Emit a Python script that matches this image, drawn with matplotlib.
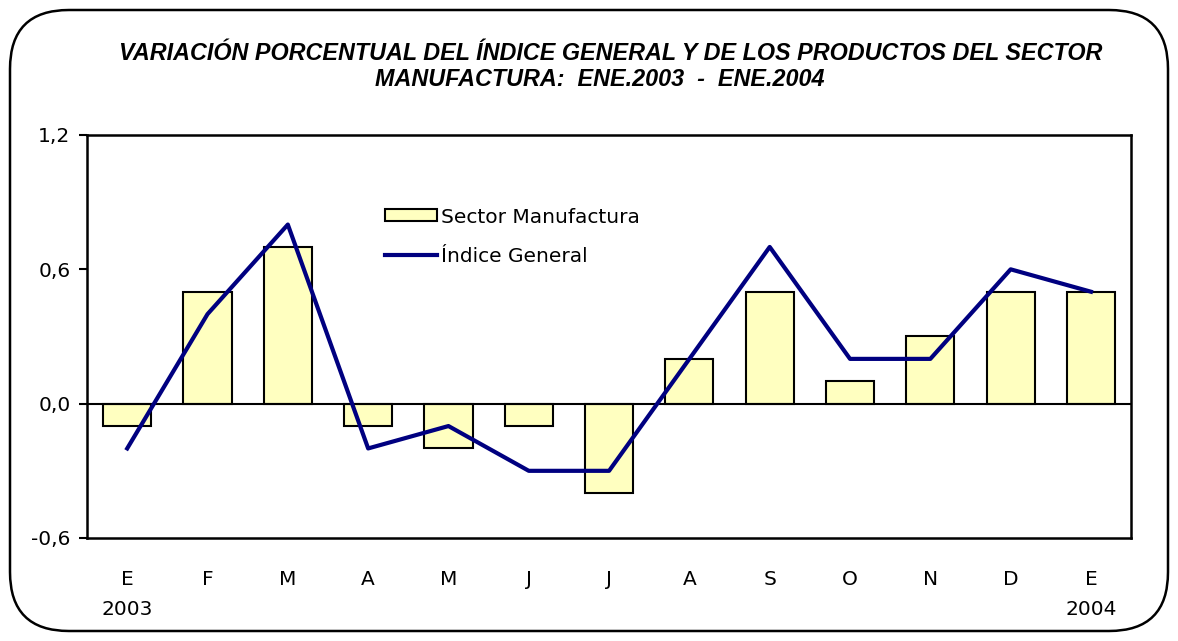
import matplotlib.pyplot as plt
from matplotlib.patches import FancyBboxPatch
import numpy as np

months = ['E', 'F', 'M', 'A', 'M', 'J', 'J', 'A', 'S', 'O', 'N', 'D', 'E']
manufactura = [-0.1, 0.5, 0.7, -0.1, -0.2, -0.1, -0.4, 0.2, 0.5, 0.1, 0.3, 0.5, 0.5]
indice = [-0.2, 0.4, 0.8, -0.2, -0.1, -0.3, -0.3, 0.2, 0.7, 0.2, 0.2, 0.6, 0.5]
yticks = [-0.6, 0.0, 0.6, 1.2]
ytick_labels = ['-0,6', '0,0', '0,6', '1,2']

plt.rcParams['font.family'] = ['DejaVu Sans']

fig = plt.figure(figsize=(11.78, 6.41), dpi=100)
ax = fig.add_axes([0.0739, 0.1607, 0.8863, 0.6287])

x = np.arange(len(months))
bars = ax.bar(x, manufactura, width=0.6, color='#FFFFC0', edgecolor='black',
              linewidth=1.5, label='Sector Manufactura', zorder=2)
line, = ax.plot(x, indice, color='#000080', linewidth=3, label='Índice General', zorder=3)
ax.axhline(0, color='black', linewidth=1.5, zorder=2.5)

ax.set_xlim(-0.5, len(months) - 0.5)
ax.set_ylim(-0.6, 1.2)
ax.set_yticks(yticks)
ax.set_yticklabels(ytick_labels, fontsize=14.5)
ax.set_xticks(x)
ax.set_xticklabels(months, fontsize=14.5)
ax.tick_params(axis='x', length=0, pad=23)
ax.tick_params(axis='y', length=6, width=1.5, pad=6)
for s in ax.spines.values():
    s.set_linewidth(1.8)

ax.text(0, -0.92, '2003', ha='center', va='center', fontsize=14.5)
ax.text(len(months) - 1, -0.92, '2004', ha='center', va='center', fontsize=14.5)

ax.legend([bars, line], ['Sector Manufactura', 'Índice General'],
          loc='upper left', bbox_to_anchor=(0.285, 0.82), frameon=False,
          fontsize=14.5, handlelength=2.6, handleheight=0.55, handletextpad=0.2,
          labelspacing=1.0, borderpad=0, borderaxespad=0)

title_font = dict(fontsize=16.8, fontweight='bold', fontstyle='italic',
                  family=['Liberation Sans', 'DejaVu Sans'], va='center', ha='center')
fig.text(611 / 1178, 1 - 53 / 641,
         'VARIACIÓN PORCENTUAL DEL ÍNDICE GENERAL Y DE LOS PRODUCTOS DEL SECTOR', **title_font)
fig.text(600 / 1178, 1 - 79 / 641, 'MANUFACTURA:  ENE.2003  -  ENE.2004', **title_font)

border = FancyBboxPatch((10 / 1178, 10 / 641), 1158 / 1178, 621 / 641,
                        boxstyle='round,pad=0,rounding_size=0.05',
                        transform=fig.transFigure, fill=False,
                        edgecolor='black', linewidth=1.8, mutation_aspect=1178 / 641)
fig.patches.append(border)

fig.savefig('out.png', dpi=100)
